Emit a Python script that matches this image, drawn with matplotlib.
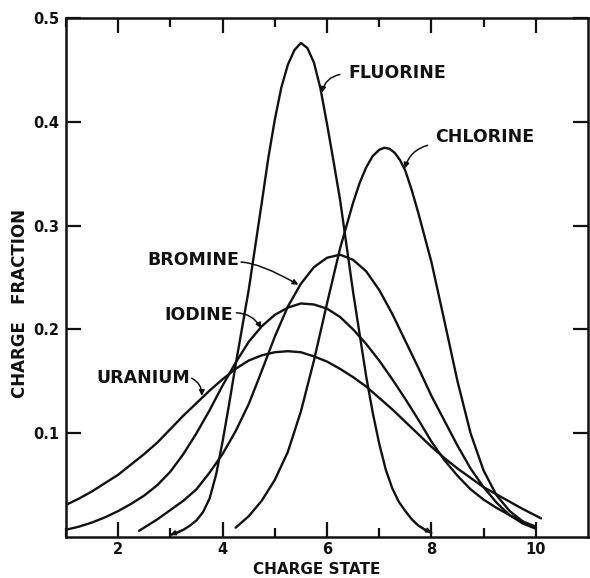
import matplotlib
matplotlib.use("Agg")
import matplotlib.pyplot as plt
from matplotlib.ticker import FixedLocator, NullFormatter

# Charge-state distributions (charge fraction vs. charge state)
fluorine_q = [3.0, 3.125, 3.25, 3.375, 3.5, 3.625, 3.75, 3.875, 4.0, 4.125, 4.25, 4.5,
              4.75, 4.875, 5.0, 5.125, 5.25, 5.375, 5.5, 5.625, 5.75, 5.875, 6.0, 6.125,
              6.25, 6.5, 6.75, 6.875, 7.0, 7.125, 7.25, 7.375, 7.5, 7.625, 7.75, 7.875, 8.0]
fluorine_f = [0.002, 0.004, 0.007, 0.011, 0.016, 0.024, 0.037, 0.060, 0.092, 0.128, 0.166, 0.238,
              0.322, 0.365, 0.402, 0.433, 0.455, 0.469, 0.476, 0.471, 0.457, 0.432, 0.398, 0.362,
              0.325, 0.236, 0.155, 0.120, 0.090, 0.065, 0.047, 0.034, 0.025, 0.017, 0.011, 0.007, 0.004]

chlorine_q = [4.25, 4.5, 4.75, 5.0, 5.25, 5.5, 5.75, 6.0, 6.25, 6.5, 6.625, 6.75, 6.875,
              7.0, 7.1, 7.2, 7.3, 7.4, 7.5, 7.625, 7.75, 8.0, 8.25, 8.5, 8.75, 9.0, 9.25,
              9.5, 9.75, 10.0]
chlorine_f = [0.009, 0.020, 0.035, 0.055, 0.082, 0.121, 0.170, 0.225, 0.278, 0.322, 0.341, 0.356, 0.367,
              0.373, 0.375, 0.374, 0.370, 0.363, 0.353, 0.334, 0.312, 0.265, 0.208, 0.150, 0.100, 0.064, 0.040,
              0.025, 0.015, 0.008]

bromine_q = [2.4, 2.75, 3.0, 3.25, 3.5, 3.75, 4.0, 4.25, 4.5, 4.75, 5.0, 5.25, 5.5, 5.75,
             6.0, 6.25, 6.5, 6.75, 7.0, 7.25, 7.5, 7.75, 8.0, 8.25, 8.5, 8.75, 9.0, 9.25,
             9.5, 9.75, 10.0]
bromine_f = [0.006, 0.017, 0.026, 0.035, 0.046, 0.062, 0.080, 0.102, 0.128, 0.160, 0.193, 0.222, 0.244, 0.260,
             0.269, 0.272, 0.267, 0.256, 0.238, 0.215, 0.189, 0.163, 0.136, 0.112, 0.088, 0.066, 0.048, 0.033,
             0.021, 0.013, 0.008]

iodine_q = [1.0, 1.25, 1.5, 1.75, 2.0, 2.25, 2.5, 2.75, 3.0, 3.25, 3.5, 3.75, 4.0, 4.25,
            4.5, 4.75, 5.0, 5.25, 5.5, 5.75, 6.0, 6.25, 6.5, 6.75, 7.0, 7.25, 7.5, 7.75,
            8.0, 8.25, 8.5, 8.75, 9.0, 9.25, 9.5, 9.75, 10.0]
iodine_f = [0.007, 0.010, 0.014, 0.019, 0.025, 0.032, 0.040, 0.050, 0.063, 0.080, 0.100, 0.122, 0.146, 0.168,
            0.188, 0.203, 0.214, 0.221, 0.225, 0.224, 0.220, 0.212, 0.200, 0.186, 0.170, 0.152, 0.133, 0.113,
            0.092, 0.074, 0.059, 0.046, 0.036, 0.028, 0.021, 0.015, 0.010]

uranium_q = [1.0, 1.25, 1.5, 1.75, 2.0, 2.25, 2.5, 2.75, 3.0, 3.25, 3.5, 3.75, 4.0, 4.25,
             4.5, 4.75, 5.0, 5.25, 5.5, 5.75, 6.0, 6.25, 6.5, 6.75, 7.0, 7.25, 7.5, 7.75,
             8.0, 8.25, 8.5, 8.75, 9.0, 9.25, 9.5, 9.75, 10.1]
uranium_f = [0.031, 0.037, 0.044, 0.052, 0.060, 0.070, 0.080, 0.091, 0.104, 0.117, 0.129, 0.141, 0.152, 0.162,
             0.170, 0.175, 0.178, 0.179, 0.178, 0.174, 0.169, 0.162, 0.154, 0.145, 0.134, 0.123, 0.111, 0.099,
             0.087, 0.076, 0.066, 0.057, 0.048, 0.041, 0.034, 0.027, 0.018]

x_major = [2, 4, 6, 8, 10]
x_minor = [1, 3, 5, 7, 9]
x_labels = ["2", "4", "6", "8", "10"]
y_ticks = [0.1, 0.2, 0.3, 0.4, 0.5]
y_labels = ["0.1", "0.2", "0.3", "0.4", "0.5"]

FONT = "DejaVu Sans"
INK = "#111111"

fig = plt.figure(figsize=(5.9, 5.78), dpi=100)
ax = fig.add_axes([66 / 590, 41 / 578, 522 / 590, 519 / 578])

curve_kw = dict(color=INK, lw=1.7, solid_capstyle="round", solid_joinstyle="round")
for q, f in [(fluorine_q, fluorine_f), (chlorine_q, chlorine_f), (bromine_q, bromine_f),
             (iodine_q, iodine_f), (uranium_q, uranium_f)]:
    ax.plot(q, f, **curve_kw)

# small arrowheads at the ends of the fluorine curve
end_kw = dict(arrowstyle="-|>", color=INK, lw=1.2, mutation_scale=7, shrinkA=0, shrinkB=0)
ax.annotate("", xy=(fluorine_q[0], fluorine_f[0]), xytext=(fluorine_q[2], fluorine_f[2]),
            arrowprops=end_kw)
ax.annotate("", xy=(fluorine_q[-1], fluorine_f[-1]), xytext=(fluorine_q[-3], fluorine_f[-3]),
            arrowprops=end_kw)

ax.set_xlim(1, 11)
ax.set_ylim(0, 0.5)

ax.xaxis.set_major_locator(FixedLocator(x_major))
ax.xaxis.set_minor_locator(FixedLocator(x_minor))
ax.set_xticklabels(x_labels)
ax.xaxis.set_minor_formatter(NullFormatter())
ax.yaxis.set_major_locator(FixedLocator(y_ticks))
ax.set_yticklabels(y_labels)

ax.tick_params(axis="both", which="major", direction="in", length=11, width=1.6,
               top=True, right=True, colors=INK)
ax.tick_params(axis="x", which="minor", direction="in", length=6.5, width=1.6,
               top=True, colors=INK)
ax.tick_params(axis="x", which="major", pad=3.5)
ax.tick_params(axis="y", which="major", pad=5)
for lab in ax.get_xticklabels() + ax.get_yticklabels():
    lab.set_fontfamily(FONT)
    lab.set_fontsize(10.5)
    lab.set_fontweight("bold")
    lab.set_color(INK)
for sp in ax.spines.values():
    sp.set_linewidth(1.8)
    sp.set_color(INK)

text_kw = dict(fontfamily=FONT, fontsize=12.5, fontweight="bold", color=INK)
axis_kw = dict(text_kw, fontsize=11)
ax.text(0.48, -0.077, "CHARGE STATE", transform=ax.transAxes, ha="center", va="bottom", **axis_kw)
ax.text(-0.088, 0.449, "CHARGE   FRACTION", transform=ax.transAxes, ha="center", va="center",
        rotation=90, **dict(text_kw, fontsize=12))

# curve labels with curved leader arrows
arrow_kw = dict(arrowstyle="-|>", color=INK, lw=1.1, mutation_scale=8, shrinkA=2, shrinkB=0)
labels = [
    ("FLUORINE", (6.40, 0.447), (6.30, 0.446), (5.90, 0.428), "arc3,rad=0.35"),
    ("CHLORINE", (8.08, 0.385), (7.98, 0.378), (7.49, 0.355), "arc3,rad=0.3"),
    ("BROMINE", (2.55, 0.267), (4.30, 0.265), (5.45, 0.243), "angle3,angleA=0,angleB=-30"),
    ("IODINE", (2.88, 0.214), (4.21, 0.216), (4.74, 0.201), "arc3,rad=-0.3"),
    ("URANIUM", (1.58, 0.153), (3.36, 0.154), (3.60, 0.136), "arc3,rad=-0.35"),
]
for name, tpos, a_from, a_to, style in labels:
    ax.text(tpos[0], tpos[1], name, ha="left", va="center", **text_kw)
    ax.annotate("", xy=a_to, xytext=a_from,
                arrowprops=dict(connectionstyle=style, **arrow_kw))

fig.savefig("out.png", dpi=100, facecolor="white")
